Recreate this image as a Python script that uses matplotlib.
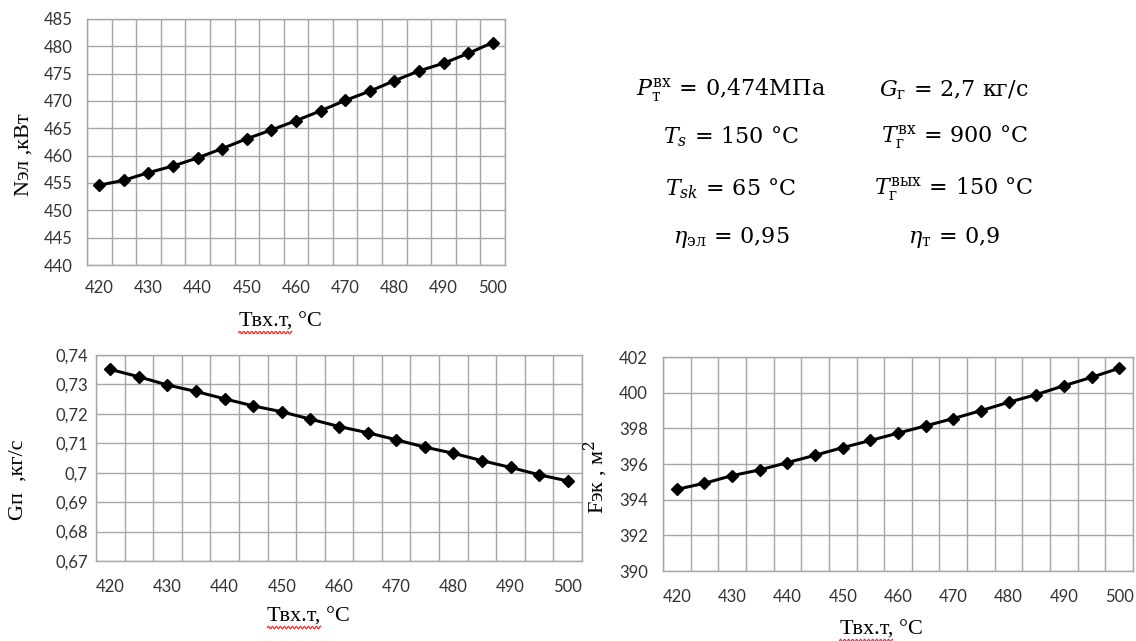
import numpy as np
import matplotlib
matplotlib.use("Agg")
import matplotlib.pyplot as plt
from matplotlib.lines import Line2D
from matplotlib.transforms import IdentityTransform

# inlet turbine temperature, °C (category axis)
t_in = [420, 425, 430, 435, 440, 445, 450, 455, 460, 465,
        470, 475, 480, 485, 490, 495, 500]

# electric power, kW
n_el = [454.6, 455.5, 456.9, 458.1, 459.6, 461.3, 463.1, 464.7, 466.4,
        468.2, 470.1, 471.8, 473.7, 475.5, 476.9, 478.7, 480.7]

# steam flow, kg/s
g_p = [0.7351, 0.7326, 0.7298, 0.7276, 0.7251, 0.7227, 0.7207, 0.7182,
       0.7157, 0.7136, 0.7112, 0.7087, 0.7066, 0.7041, 0.7018, 0.6993, 0.6972]

# economizer surface, m2
f_ek = [394.58, 394.92, 395.35, 395.67, 396.08, 396.49, 396.92, 397.32,
        397.73, 398.14, 398.55, 398.99, 399.46, 399.89, 400.39, 400.86, 401.37]

EQ = r"\,=\,"
params = [
    (r"$P_{\mathrm{т}}^{\mathrm{вх}}" + EQ + r"0{,}474\mathrm{МПа}$",
     r"$G_{\mathrm{г}}" + EQ + r"2{,}7\ \mathrm{кг/с}$"),
    (r"$T_s" + EQ + r"150\ \mathrm{°C}$",
     r"$T_{\mathrm{г}}^{\mathrm{вх}}" + EQ + r"900\ \mathrm{°C}$"),
    (r"$T_{sk}" + EQ + r"65\ \mathrm{°C}$",
     r"$T_{\mathrm{г}}^{\mathrm{вых}}" + EQ + r"150\ \mathrm{°C}$"),
    (r"$\eta_{\mathrm{эл}}" + EQ + r"0{,}95$",
     r"$\eta_{\mathrm{т}}" + EQ + r"0{,}9$"),
]

plt.rcParams['mathtext.fontset'] = 'dejavuserif'

GRID = '#a6a6a6'
TICK = '#333333'
W, H = 1136, 641
XLABEL = 'Твх.т, °C'


def box(left, top, right, bottom):
    # pixel box -> figure fraction
    return [left / W, 1 - bottom / H, (right - left) / W, (bottom - top) / H]


def comma(v, pos=None):
    return f"{v:g}".replace('.', ',')


def draw(ax, y, ylim, ystep, ylabel, ylab_xy, xlab_xy, ypad, xpad):
    x = np.arange(len(t_in))
    ax.plot(x, y, color='black', lw=2.2, marker='D', ms=6.5, zorder=3)
    ax.set_xlim(-0.5, len(t_in) - 0.5)
    ax.set_ylim(*ylim)
    ax.set_xticks(x[::2])
    ax.set_xticklabels([str(t) for t in t_in[::2]])
    ax.set_xticks(np.arange(-0.5, len(t_in), 1), minor=True)
    yt = np.arange(ylim[0], ylim[1] + ystep / 2, ystep)
    ax.set_yticks(yt)
    ax.set_yticklabels([comma(round(v, 4)) for v in yt])
    ax.grid(False)
    ax.xaxis.grid(True, which='minor', color=GRID, lw=1)
    ax.yaxis.grid(True, which='major', color=GRID, lw=1)
    ax.set_axisbelow(True)
    for s in ax.spines.values():
        s.set_color(GRID)
        s.set_linewidth(1)
    ax.tick_params(which='both', length=0, colors=TICK, labelsize=12)
    ax.tick_params(axis='y', pad=ypad)
    ax.tick_params(axis='x', pad=xpad)
    for lab in ax.get_xticklabels() + ax.get_yticklabels():
        lab.set_family('Lato')
    ax.set_ylabel(ylabel, family='Liberation Serif', fontsize=16, va='center')
    ax.yaxis.set_label_coords(*ylab_xy)
    ax.set_xlabel(XLABEL, family='Liberation Serif', fontsize=16, va='center')
    ax.xaxis.set_label_coords(*xlab_xy)


fig = plt.figure(figsize=(W / 100, H / 100), dpi=100)

ax1 = fig.add_axes(box(87, 19, 505, 265))
draw(ax1, n_el, (440, 485), 5, 'Nэл ,кВт', (-0.151, 0.447), (0.462, -0.232), 10, 11)

ax2 = fig.add_axes(box(96, 355, 582, 561))
draw(ax2, g_p, (0.67, 0.74), 0.01, 'Gп  ,кг/с', (-0.160, 0.393), (0.438, -0.272), 6, 13)

ax3 = fig.add_axes(box(663, 357, 1133, 571))
draw(ax3, f_ek, (390, 402), 2, 'Fэк , м$^2$', (-0.1426, 0.439), (0.464, -0.276), 11, 13)

# parameter block
rows_y = [96, 143, 195, 243]
cols_x = [731, 954]
for (left, right), yb in zip(params, rows_y):
    fig.text(cols_x[0] / W, 1 - yb / H, left, ha='center', va='baseline', fontsize=16)
    fig.text(cols_x[1] / W, 1 - yb / H, right, ha='center', va='baseline', fontsize=16)

# red spell-check squiggle under the first word of each x label
fig.canvas.draw()
rend = fig.canvas.get_renderer()
probe = fig.text(0, 0, XLABEL.split(' ')[0], family='Liberation Serif', fontsize=16)
word_w = probe.get_window_extent(rend).width
probe.remove()
for ax in (ax1, ax2, ax3):
    bb = ax.xaxis.label.get_window_extent(rend)
    xs = np.arange(bb.x0, bb.x0 + word_w, 0.5)
    ys = bb.y0 - 1 + 1.2 * np.sin(2 * np.pi * (xs - bb.x0) / 4)
    fig.add_artist(Line2D(xs, ys, color='#e83030', lw=0.9, transform=IdentityTransform()))

fig.savefig('out.png', dpi=100)
